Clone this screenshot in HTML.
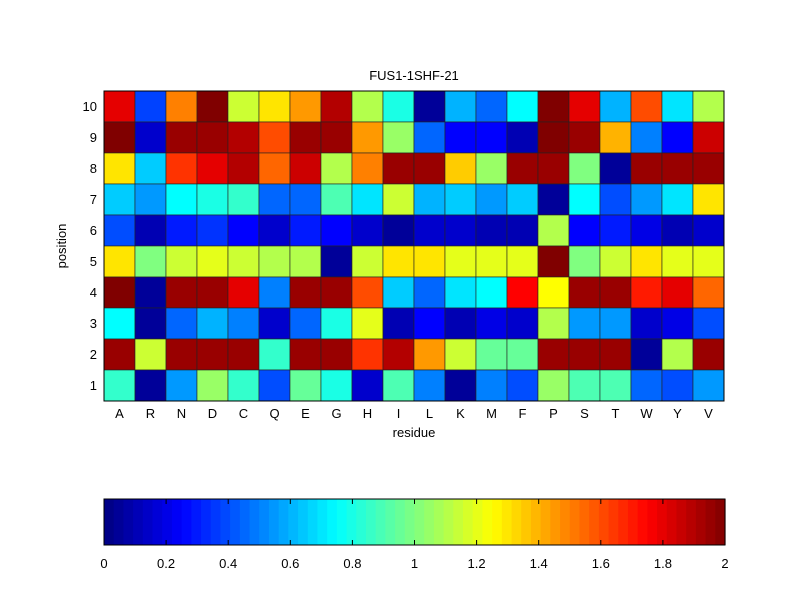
<!DOCTYPE html>
<html><head><meta charset="utf-8"><style>body{margin:0;background:#fff}svg{display:block}text{font-family:"Liberation Sans",sans-serif;font-size:13px;fill:#000}</style></head>
<body><svg id="s" width="800" height="600" xmlns="http://www.w3.org/2000/svg"></svg>
<script>
const d=[
[1.8,.38,1.5,2,1.15,1.3,1.45,1.9,1.1,.8,.05,.6,.45,.75,2,1.8,.6,1.6,.7,1.1],
[2,.15,1.95,1.95,1.9,1.6,1.95,1.95,1.45,1.05,.45,.25,.25,.1,2,1.95,1.4,.5,.25,1.85],
[1.3,.65,1.65,1.8,1.9,1.55,1.85,1.1,1.5,1.95,1.95,1.35,1.05,1.95,1.95,1.0,.05,1.95,1.95,1.95],
[.65,.55,.75,.8,.85,.45,.45,.9,.7,1.15,.6,.65,.55,.65,.05,.75,.4,.55,.7,1.3],
[.4,.1,.3,.35,.25,.15,.3,.25,.15,.05,.15,.15,.1,.1,1.1,.25,.3,.2,.1,.15],
[1.3,1.0,1.15,1.2,1.15,1.1,1.1,.05,1.15,1.3,1.3,1.2,1.2,1.2,2,1.0,1.15,1.3,1.2,1.2],
[2,.05,1.95,1.95,1.8,.5,1.95,1.95,1.6,.65,.45,.7,.75,1.75,1.25,1.95,1.95,1.7,1.8,1.55],
[.75,.05,.45,.6,.5,.15,.45,.8,1.2,.1,.25,.1,.2,.15,1.1,.55,.55,.15,.2,.4],
[1.95,1.15,1.95,1.95,1.95,.85,1.95,1.95,1.65,1.9,1.45,1.15,.95,.95,1.95,1.95,1.95,.05,1.1,1.95],
[.85,.05,.55,1.05,.85,.4,.95,.8,.15,.9,.5,.05,.5,.4,1.05,.9,.9,.45,.4,.55]];
function c(x){return Math.round(255*Math.max(0,Math.min(1,x)))}
function jet(v){let t=v/2;return `rgb(${c(1.5-Math.abs(4*t-3))},${c(1.5-Math.abs(4*t-2))},${c(1.5-Math.abs(4*t-1))})`}
let h='';const X0=104,Y0=91,W=31,H=31;
for(let r=0;r<10;r++)for(let k=0;k<20;k++)h+=`<rect x="${X0+k*W}" y="${Y0+r*H}" width="${W}" height="${H}" fill="${jet(d[r][k])}" stroke="#222" stroke-width="0.6"/>`;
h+=`<rect x="${X0}" y="${Y0}" width="620" height="310" fill="none" stroke="#000" stroke-width="1"/>`;
const L="ARNDCQEGHILKMFPSTWYV";
for(let k=0;k<20;k++)h+=`<text x="${X0+k*W+15.5}" y="418" text-anchor="middle">${L[k]}</text>`;
for(let r=0;r<10;r++)h+=`<text x="97" y="${Y0+r*H+20}" text-anchor="end">${10-r}</text>`;
h+=`<text x="414" y="80" text-anchor="middle">FUS1-1SHF-21</text>`;
h+=`<text x="414" y="437" text-anchor="middle">residue</text>`;
h+=`<text transform="translate(66,246) rotate(-90)" text-anchor="middle">position</text>`;
const cx0=104,cw=621,n=64;
for(let i=0;i<n;i++)h+=`<rect x="${cx0+i*cw/n}" y="499" width="${cw/n+0.6}" height="46" fill="${jet((i+0.5)/n*2)}"/>`;
h+=`<rect x="${cx0}" y="499" width="${cw}" height="46" fill="none" stroke="#000"/>`;
for(let i=0;i<=10;i++){let x=cx0+i*cw/10;h+=`<line x1="${x}" y1="499" x2="${x}" y2="504" stroke="#000"/><line x1="${x}" y1="545" x2="${x}" y2="540" stroke="#000"/><text x="${x}" y="568" text-anchor="middle">${+(i*0.2).toFixed(1)}</text>`}
document.getElementById('s').innerHTML=h;
</script></body></html>
